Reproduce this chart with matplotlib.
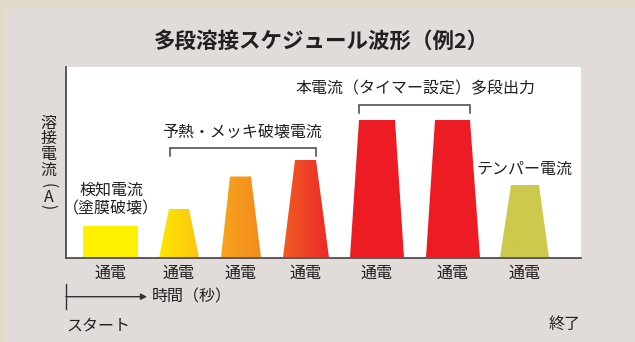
import matplotlib.pyplot as plt
import numpy as np
from matplotlib.patches import Polygon, Rectangle
from matplotlib.colors import LinearSegmentedColormap

plt.rcParams['font.family'] = ['Noto Sans CJK JP', 'DejaVu Sans']

W, H = 635, 342

# pulse schedule (time units along the axis): rise start, rise end, fall start, fall end
t_rise_start = [17, 93, 155, 217, 284, 360, 434]
t_rise_end = [17, 103, 164, 229, 293, 369, 445]
t_fall_start = [72, 123, 185, 250, 329, 404, 473]
t_fall_end = [72, 133, 195, 263, 338, 414, 483]
current = [32, 48.5, 81, 97.5, 137.5, 137.5, 72.5]
pulse_labels = ['通電'] * 7
left_colors = ['#fff100', '#ffe800', '#f8a41c', '#f15a24', '#ed1c24', '#ed1c24', '#cdc94d']
right_colors = ['#fff100', '#fbc412', '#f48b20', '#eb2b27', '#ed1c24', '#ed1c24', '#cdc94d']

text_col = '#231f20'


def px(x, y):
    return x / W, 1 - y / H


fig = plt.figure(figsize=(6.35, 3.42), dpi=100)
fig.patch.set_facecolor('#e2d9c6')
fig.add_artist(Rectangle(px(5, H), (W - 5) / W, (H - 8) / H, transform=fig.transFigure,
                         facecolor='#e1dcd9', edgecolor='none', zorder=0))

ax = fig.add_axes([66 / W, (H - 257.5) / H, 515 / W, 190.5 / H])
ax.set_facecolor('white')
for s in ['top', 'right']:
    ax.spines[s].set_visible(False)
for s in ['left', 'bottom']:
    ax.spines[s].set_color('#4d4d4d')
    ax.spines[s].set_linewidth(1.3)
    ax.spines[s].set_zorder(5)
ax.set_xticks([])
ax.set_yticks([])

for i in range(len(current)):
    xs = [t_rise_start[i], t_rise_end[i], t_fall_start[i], t_fall_end[i]]
    ys = [0, current[i], current[i], 0]
    poly = Polygon(list(zip(xs, ys)), closed=True, facecolor='none', edgecolor='none')
    ax.add_patch(poly)
    cmap = LinearSegmentedColormap.from_list('g%d' % i, [left_colors[i], right_colors[i]])
    grad = np.linspace(0, 1, 256).reshape(1, -1)
    im = ax.imshow(grad, cmap=cmap, aspect='auto', interpolation='bilinear',
                   extent=[t_rise_start[i], t_fall_end[i], 0, current[i]], zorder=2)
    im.set_clip_path(poly)
    ax.text((t_rise_start[i] + t_fall_end[i]) / 2, -15.5, pulse_labels[i], fontsize=11.5,
            color=text_col, ha='center', va='center', clip_on=False)

ax.set_xlim(0, 515)
ax.set_ylim(0, 190.5)


# brackets
def bracket(x0, x1, y_top, y_bot):
    ax.plot([x0, x0, x1, x1], [y_bot, y_top, y_top, y_bot], color='#444444', lw=1.1,
            solid_joinstyle='miter', zorder=3)


bracket(t_rise_end[1] + 0.5, t_fall_start[3] - 0.5, 109.5, 101.5)
bracket(t_rise_end[4], t_fall_start[5], 152.5, 144.5)

ax.text(241.7 - 66, 257.5 - 132, '予熱・メッキ破壊電流', fontsize=11.5, color=text_col, ha='center', va='center')
ax.text(415 - 66, 257.5 - 89, '本電流（タイマー設定）多段出力', fontsize=11.5, color=text_col, ha='center', va='center')
ax.text(524.5 - 66, 257.5 - 169, 'テンパー電流', fontsize=11.5, color=text_col, ha='center', va='center')
ax.text(111.5 - 66, 257.5 - 190, '検知電流', fontsize=11.5, color=text_col, ha='center', va='center')
ax.text(110.8 - 66, 257.5 - 208.5, '（塗膜破壊）', fontsize=11.5, color=text_col, ha='center', va='center')

# time arrow
ax.plot([0, 0], [257.5 - 284, 257.5 - 308.7], color='#333333', lw=1.0, clip_on=False)
ax.annotate('', xy=(147 - 66, 257.5 - 296.7), xytext=(0, 257.5 - 296.7),
            arrowprops=dict(arrowstyle='-|>', color='#333333', lw=1.0, mutation_scale=9,
                            shrinkA=0, shrinkB=0), annotation_clip=False)

fig.text(*px(321, 41), '多段溶接スケジュール波形（例2）', fontsize=15.5, fontweight='bold',
         color=text_col, ha='center', va='center')
fig.text(*px(152, 297), '時間（秒）', fontsize=11.5, color=text_col, ha='left', va='center')
fig.text(*px(66, 326.5), 'スタート', fontsize=11.5, color=text_col, ha='left', va='center')
fig.text(*px(581, 324.5), '終了', fontsize=11.5, color=text_col, ha='right', va='center')

# vertical y label
for ch, yy in zip('溶接電流', [123, 138.8, 154.6, 170.4]):
    fig.text(*px(48.5, yy), ch, fontsize=11.5, color=text_col, ha='center', va='center')
fig.text(*px(48.5, 186), '(', fontsize=11, color=text_col, ha='center', va='center',
         rotation=-90, rotation_mode='anchor')
fig.text(*px(48.5, 197), 'A', fontsize=11.5, color=text_col, ha='center', va='center')
fig.text(*px(48.5, 207), ')', fontsize=11, color=text_col, ha='center', va='center',
         rotation=-90, rotation_mode='anchor')

fig.savefig('out.png', dpi=100, facecolor=fig.get_facecolor())
